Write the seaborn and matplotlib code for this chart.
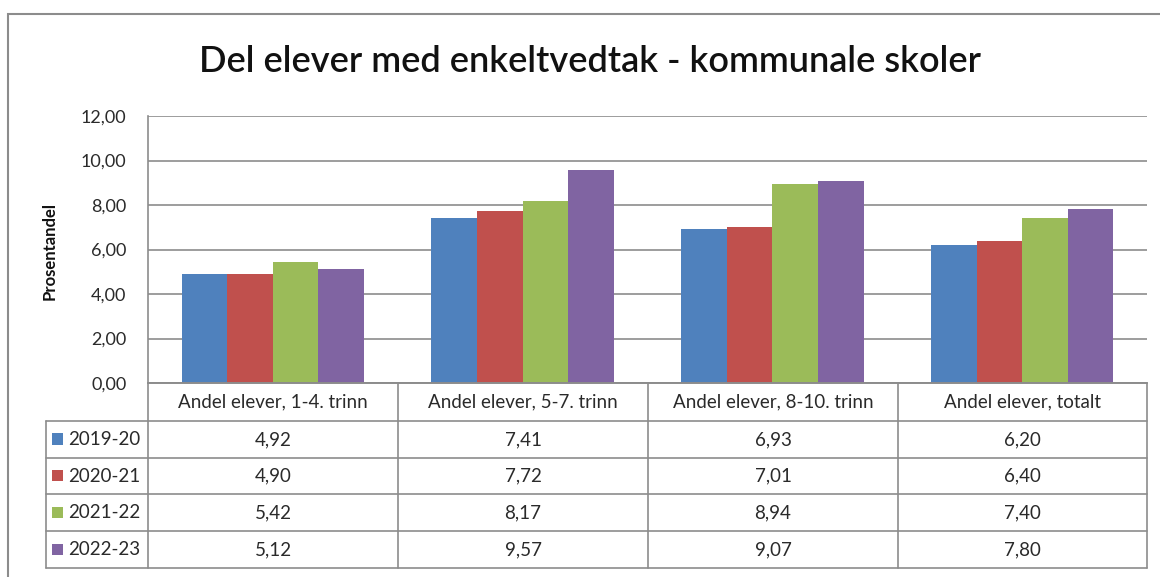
import matplotlib
matplotlib.use("Agg")
import matplotlib.pyplot as plt
from matplotlib.lines import Line2D
from matplotlib.patches import Rectangle
import seaborn as sns
import pandas as pd

categories = ["Andel elever, 1-4. trinn", "Andel elever, 5-7. trinn",
              "Andel elever, 8-10. trinn", "Andel elever, totalt"]
years = ["2019-20", "2020-21", "2021-22", "2022-23"]
v_2019_20 = [4.92, 7.41, 6.93, 6.20]
v_2020_21 = [4.90, 7.72, 7.01, 6.40]
v_2021_22 = [5.42, 8.17, 8.94, 7.40]
v_2022_23 = [5.12, 9.57, 9.07, 7.80]
series = [v_2019_20, v_2020_21, v_2021_22, v_2022_23]
yticks = [0, 2, 4, 6, 8, 10, 12]
title = "Del elever med enkeltvedtak - kommunale skoler"
ylabel = "Prosentandel"
colors = ["#4F81BD", "#C0504D", "#9BBB59", "#8064A2"]

rows = []
for y, vals in zip(years, series):
    for c, v in zip(categories, vals):
        rows.append({"cat": c, "year": y, "val": v})
df = pd.DataFrame(rows)

sns.set_theme(style="white")
plt.rcParams["font.family"] = ["Lato", "DejaVu Sans"]

W, H = 1160, 577
fig = plt.figure(figsize=(W / 100, H / 100), dpi=100)

def fx(px):
    return px / W

def fy(py):
    return 1 - py / H

ax_l, ax_r, ax_t, ax_b = 148, 1147, 116, 383
ax = fig.add_axes([fx(ax_l), fy(ax_b), fx(ax_r - ax_l), fy(ax_t) - fy(ax_b)])
sns.barplot(data=df, x="cat", y="val", hue="year", palette=colors, order=categories,
            hue_order=years, width=0.73, saturation=1, ax=ax, legend=False,
            errorbar=None, edgecolor="none", linewidth=0)
ax.set_xlim(-0.5, 3.5)
ax.set_ylim(0, 12)
ax.set_yticks(yticks)
ax.set_yticklabels([f"{t:.2f}".replace(".", ",") for t in yticks], fontsize=13, color="#2a2a2a")
ax.set_xticks([])
ax.set_xlabel("")
ax.set_ylabel("")
ax.grid(axis="y", color="#8c8c8c", linewidth=1.2)
ax.set_axisbelow(True)
for s in ["top", "right"]:
    ax.spines[s].set_visible(False)
for s in ["left", "bottom"]:
    ax.spines[s].set_color("#8c8c8c")
    ax.spines[s].set_linewidth(1.2)
ax.tick_params(axis="y", length=0, pad=15.5)

fig.text(fx(50), fy(251), ylabel, rotation=90, ha="center", va="center",
         fontsize=12, fontweight="bold", color="#111111")
fig.text(fx(590), fy(62), title, ha="center", va="center", fontsize=26,
         fontweight="semibold", color="#111111")

# outer frame
fig.add_artist(Rectangle((fx(8), -0.05), 1.2, fy(14) + 0.05, transform=fig.transFigure,
                         fill=False, edgecolor="#8c8c8c", linewidth=1.5))

# data table
lc = "#8c8c8c"
row_y = [383, 421, 458, 494, 531, 568]
col_x = [148, 398, 648, 898, 1147]
tab_left = 46
for i, y in enumerate(row_y):
    x0 = ax_l if i == 0 else tab_left
    fig.add_artist(Line2D([fx(x0), fx(ax_r)], [fy(y), fy(y)], color=lc, lw=1.2,
                          transform=fig.transFigure))
for x in col_x:
    fig.add_artist(Line2D([fx(x), fx(x)], [fy(row_y[0]), fy(row_y[-1])], color=lc, lw=1.2,
                          transform=fig.transFigure))
fig.add_artist(Line2D([fx(tab_left), fx(tab_left)], [fy(row_y[1]), fy(row_y[-1])], color=lc,
                      lw=1.2, transform=fig.transFigure))

fs = 13.5
for j, c in enumerate(categories):
    cx = (col_x[j] + col_x[j + 1]) / 2
    fig.text(fx(cx), fy((row_y[0] + row_y[1]) / 2), c, ha="center", va="center",
             fontsize=fs, color="#2a2a2a")
for i, (y, vals) in enumerate(zip(years, series)):
    cy = (row_y[i + 1] + row_y[i + 2]) / 2
    fig.add_artist(Rectangle((fx(52), fy(cy + 5)), fx(11), fy(cy - 6) - fy(cy + 5),
                             transform=fig.transFigure, color=colors[i], lw=0))
    fig.text(fx(68), fy(cy), y, ha="left", va="center", fontsize=fs, color="#2a2a2a")
    for j, v in enumerate(vals):
        cx = (col_x[j] + col_x[j + 1]) / 2
        fig.text(fx(cx), fy(cy), f"{v:.2f}".replace(".", ","), ha="center", va="center",
                 fontsize=fs, color="#2a2a2a")

fig.savefig("out.png", dpi=100, facecolor="white")
